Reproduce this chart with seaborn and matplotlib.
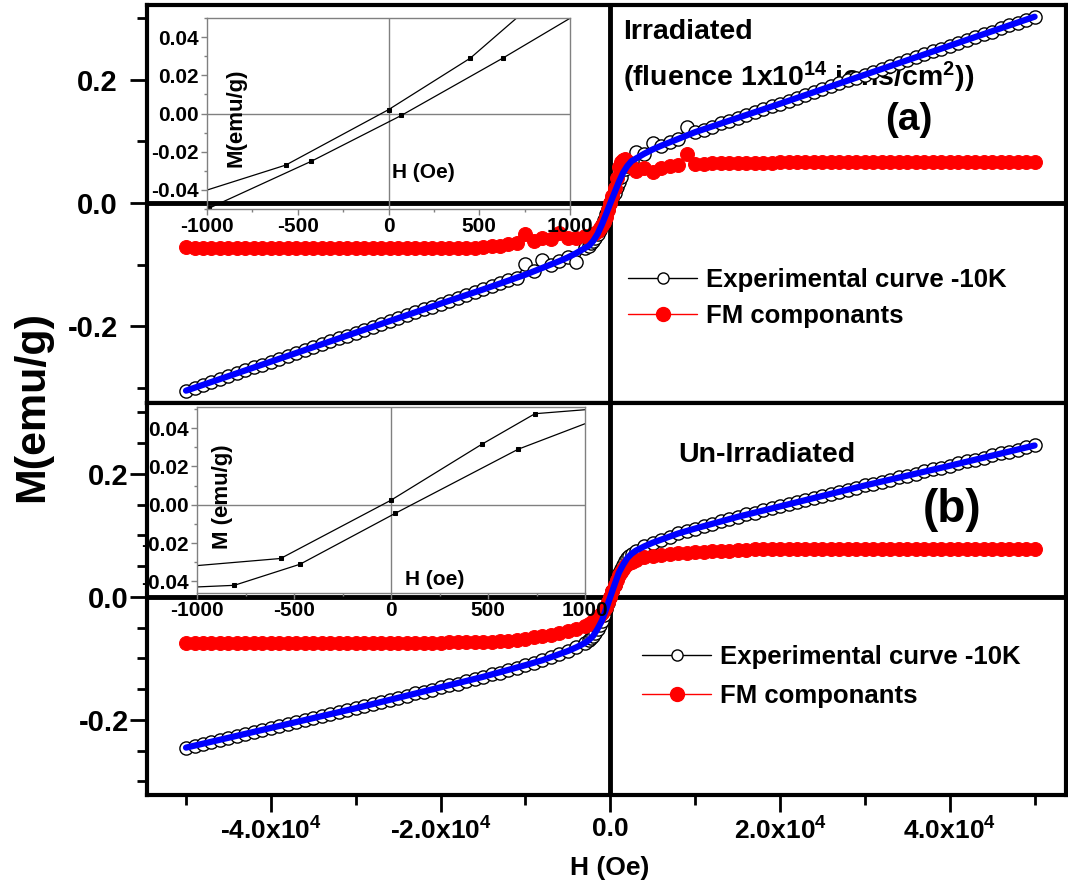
import seaborn as sns
import pandas as pd
import matplotlib
matplotlib.use('Agg')
import matplotlib.pyplot as plt
from matplotlib.lines import Line2D
from matplotlib.ticker import FixedLocator, FixedFormatter, MultipleLocator

# ---------------- data ----------------
H_FIELD = [
    -50000, -49000, -48000, -47000, -46000, -45000, -44000, -43000, -42000, -41000,
    -40000, -39000, -38000, -37000, -36000, -35000, -34000, -33000, -32000, -31000,
    -30000, -29000, -28000, -27000, -26000, -25000, -24000, -23000, -22000, -21000,
    -20000, -19000, -18000, -17000, -16000, -15000, -14000, -13000, -12000, -11000,
    -10000, -9000, -8000, -7000, -6000, -5000, -4000, -3000,
    -2500, -2250, -2000, -1750, -1500, -1250, -1000, -750, -500, -250, 0,
    250, 500, 750, 1000, 1250, 1500, 1750, 2000, 2250, 2500,
    3000, 4000, 5000, 6000, 7000, 8000, 9000, 10000,
    11000, 12000, 13000, 14000, 15000, 16000, 17000, 18000, 19000, 20000,
    21000, 22000, 23000, 24000, 25000, 26000, 27000, 28000, 29000, 30000,
    31000, 32000, 33000, 34000, 35000, 36000, 37000, 38000, 39000, 40000,
    41000, 42000, 43000, 44000, 45000, 46000, 47000, 48000, 49000, 50000,
]

# (a) irradiated
M_EXP_IRR = [
    -0.304, -0.299, -0.295, -0.290, -0.285, -0.281, -0.276, -0.271, -0.266, -0.262,
    -0.257, -0.252, -0.248, -0.243, -0.238, -0.234, -0.229, -0.224, -0.219, -0.215,
    -0.210, -0.205, -0.201, -0.196, -0.191, -0.187, -0.182, -0.177, -0.172, -0.168,
    -0.163, -0.158, -0.154, -0.149, -0.144, -0.140, -0.135, -0.130, -0.125, -0.121,
    -0.099, -0.110, -0.093, -0.100, -0.094, -0.088, -0.095, -0.073,
    -0.069, -0.065, -0.061, -0.056, -0.050, -0.043, -0.035, -0.027, -0.018, -0.009, 0.000,
    0.008, 0.017, 0.026, 0.034, 0.042, 0.062, 0.055, 0.060, 0.064, 0.068,
    0.082, 0.080, 0.097, 0.093, 0.099, 0.104, 0.124, 0.115,
    0.119, 0.124, 0.129, 0.133, 0.138, 0.143, 0.147, 0.152, 0.157, 0.161,
    0.166, 0.171, 0.175, 0.180, 0.185, 0.189, 0.194, 0.199, 0.203, 0.208,
    0.213, 0.217, 0.222, 0.227, 0.232, 0.236, 0.241, 0.246, 0.250, 0.255,
    0.260, 0.264, 0.269, 0.274, 0.278, 0.283, 0.288, 0.292, 0.297, 0.302,
]
M_FM_IRR = [
    -0.071, -0.072, -0.072, -0.072, -0.072, -0.072, -0.072, -0.072, -0.072, -0.072,
    -0.072, -0.072, -0.072, -0.072, -0.072, -0.072, -0.072, -0.072, -0.072, -0.072,
    -0.072, -0.072, -0.072, -0.072, -0.072, -0.072, -0.072, -0.072, -0.072, -0.072,
    -0.072, -0.072, -0.072, -0.072, -0.072, -0.071, -0.070, -0.069, -0.067, -0.065,
    -0.050, -0.062, -0.056, -0.058, -0.049, -0.056, -0.057, -0.054,
    -0.055, -0.052, -0.050, -0.048, -0.045, -0.041, -0.036, -0.030, -0.023, -0.012, 0.000,
    0.012, 0.025, 0.040, 0.058, 0.066, 0.070, 0.072, 0.068, 0.062, 0.058,
    0.052, 0.057, 0.050, 0.057, 0.060, 0.062, 0.080, 0.063,
    0.064, 0.065, 0.065, 0.065, 0.065, 0.065, 0.065, 0.065, 0.065, 0.066,
    0.066, 0.066, 0.066, 0.066, 0.066, 0.066, 0.066, 0.066, 0.066, 0.066,
    0.066, 0.066, 0.066, 0.066, 0.066, 0.066, 0.066, 0.066, 0.066, 0.066,
    0.066, 0.066, 0.066, 0.066, 0.066, 0.066, 0.066, 0.066, 0.066, 0.066,
]

# (b) un-irradiated
M_EXP_UNIRR = [
    -0.245, -0.243, -0.239, -0.236, -0.233, -0.230, -0.226, -0.223, -0.220, -0.217,
    -0.213, -0.210, -0.207, -0.204, -0.200, -0.197, -0.194, -0.190, -0.187, -0.184,
    -0.181, -0.177, -0.174, -0.171, -0.167, -0.164, -0.161, -0.157, -0.154, -0.151,
    -0.147, -0.144, -0.141, -0.137, -0.134, -0.130, -0.126, -0.123, -0.119, -0.115,
    -0.111, -0.107, -0.103, -0.098, -0.093, -0.088, -0.082, -0.075,
    -0.070, -0.067, -0.063, -0.058, -0.052, -0.046, -0.039, -0.030, -0.020, -0.010, 0.000,
    0.010, 0.020, 0.030, 0.039, 0.046, 0.052, 0.058, 0.063, 0.067, 0.070,
    0.075, 0.082, 0.088, 0.093, 0.098, 0.103, 0.107, 0.111,
    0.115, 0.119, 0.123, 0.126, 0.130, 0.134, 0.137, 0.141, 0.144, 0.147,
    0.151, 0.154, 0.157, 0.161, 0.164, 0.167, 0.171, 0.174, 0.177, 0.181,
    0.184, 0.187, 0.190, 0.194, 0.197, 0.200, 0.204, 0.207, 0.210, 0.213,
    0.217, 0.220, 0.223, 0.226, 0.230, 0.233, 0.236, 0.239, 0.243, 0.246,
]
M_FM_UNIRR = [
    -0.075, -0.075, -0.075, -0.075, -0.075, -0.075, -0.075, -0.075, -0.075, -0.075,
    -0.075, -0.075, -0.075, -0.075, -0.075, -0.075, -0.075, -0.075, -0.075, -0.075,
    -0.075, -0.075, -0.075, -0.075, -0.075, -0.075, -0.075, -0.075, -0.075, -0.075,
    -0.075, -0.074, -0.074, -0.074, -0.074, -0.074, -0.073, -0.072, -0.071, -0.070,
    -0.068, -0.066, -0.064, -0.062, -0.059, -0.056, -0.052, -0.047,
    -0.044, -0.042, -0.040, -0.037, -0.034, -0.030, -0.027, -0.022, -0.016, -0.008, 0.000,
    0.010, 0.020, 0.028, 0.035, 0.041, 0.046, 0.050, 0.053, 0.055, 0.057,
    0.060, 0.064, 0.066, 0.068, 0.070, 0.071, 0.072, 0.073,
    0.073, 0.074, 0.075, 0.075, 0.076, 0.076, 0.077, 0.077, 0.077, 0.078,
    0.078, 0.078, 0.078, 0.078, 0.078, 0.078, 0.078, 0.078, 0.078, 0.078,
    0.078, 0.078, 0.078, 0.078, 0.078, 0.078, 0.078, 0.078, 0.078, 0.078,
    0.077, 0.077, 0.077, 0.077, 0.077, 0.077, 0.077, 0.077, 0.077, 0.077,
]

# blue fitted curves
H_FIT = [-50000, -40000, -30000, -20000, -15000, -10000, -8000, -6000, -5000, -4000,
         -3000, -2500, -2000, -1500, -1000, -500, 0, 500, 1000, 1500, 2000, 2500,
         3000, 4000, 5000, 6000, 8000, 10000, 15000, 20000, 30000, 40000, 50000]
M_FIT_IRR = [-0.304, -0.257, -0.210, -0.163, -0.140, -0.116, -0.105, -0.094, -0.088, -0.081,
             -0.073, -0.069, -0.061, -0.050, -0.035, -0.018, 0.000, 0.017, 0.034, 0.049, 0.060, 0.068,
             0.072, 0.080, 0.087, 0.093, 0.104, 0.115, 0.138, 0.161, 0.208, 0.255, 0.302]
M_FIT_UNIRR = [-0.245, -0.213, -0.181, -0.147, -0.130, -0.111, -0.103, -0.093, -0.088, -0.082,
               -0.075, -0.070, -0.063, -0.052, -0.039, -0.020, 0.000, 0.020, 0.039, 0.052, 0.063, 0.070,
               0.075, 0.082, 0.088, 0.093, 0.103, 0.111, 0.130, 0.147, 0.181, 0.213, 0.246]

# insets (low-field loops)
INSET_A_H_UP = [-1130, -566, 0, 451, 1010]
INSET_A_M_UP = [-0.044, -0.027, 0.002, 0.029, 0.075]
INSET_A_H_DN = [-987, -425, 71, 630, 1180]
INSET_A_M_DN = [-0.0495, -0.025, -0.001, 0.029, 0.060]
INSET_B_H_UP = [-1150, -569, 0, 467, 742, 1300]
INSET_B_M_UP = [-0.033, -0.028, 0.0024, 0.0315, 0.0475, 0.052]
INSET_B_H_DN = [-1150, -808, -469, 21, 656, 1200]
INSET_B_M_DN = [-0.0435, -0.042, -0.031, -0.0045, 0.029, 0.050]

XTICKS = [-40000, -20000, 0, 20000, 40000]
XTICK_LABELS = ['-4.0x10$^{4}$', '-2.0x10$^{4}$', '0.0', '2.0x10$^{4}$', '4.0x10$^{4}$']
YTICKS = [-0.2, 0.0, 0.2]
YTICK_LABELS = ['-0.2', '0.0', '0.2']
INSET_XTICKS = [-1000, -500, 0, 500, 1000]
INSET_XTICK_LABELS = ['-1000', '-500', '0', '500', '1000']
INSET_YTICKS = [-0.04, -0.02, 0.0, 0.02, 0.04]
INSET_YTICK_LABELS = ['-0.04', '-0.02', '0.00', '0.02', '0.04']
LEGEND_LABELS = ['Experimental curve -10K', 'FM componants']

# ---------------- style ----------------
sns.set_theme(style='ticks')
plt.rcParams['font.family'] = ['Liberation Sans', 'DejaVu Sans']
plt.rcParams['font.weight'] = 'bold'
plt.rcParams['text.color'] = 'black'
plt.rcParams['axes.labelcolor'] = 'black'
plt.rcParams['xtick.color'] = 'black'
plt.rcParams['ytick.color'] = 'black'
plt.rcParams['mathtext.fontset'] = 'custom'
plt.rcParams['mathtext.rm'] = 'Liberation Sans:bold'
plt.rcParams['mathtext.bf'] = 'Liberation Sans:bold'
plt.rcParams['mathtext.default'] = 'bf'

W, H = 1068, 892


def fx(px):
    return px / W


def fy(py):
    return 1 - py / H


fig = plt.figure(figsize=(W / 100, H / 100), dpi=100)
ax_a = fig.add_axes([fx(147), fy(403), fx(1066) - fx(147), fy(5) - fy(403)])
ax_b = fig.add_axes([fx(147), fy(795), fx(1066) - fx(147), fy(403) - fy(795)])


def draw_panel(ax, m_exp, m_fm, m_fit, ylim, minor_step, label_pad):
    df = pd.DataFrame({'H': H_FIELD, 'exp': m_exp, 'fm': m_fm})
    fit = pd.DataFrame({'H': H_FIT, 'fit': m_fit})
    ax.axhline(0, color='black', lw=3.5, zorder=1)
    ax.axvline(0, color='black', lw=3.5, zorder=1)
    sns.lineplot(data=df, x='H', y='exp', ax=ax, color='black', lw=1, marker='o',
                 markersize=9.5, markerfacecolor='white', markeredgecolor='black',
                 markeredgewidth=1, sort=False, estimator=None, zorder=2)
    sns.lineplot(data=df, x='H', y='fm', ax=ax, color='red', lw=1, marker='o',
                 markersize=10, markerfacecolor='red', markeredgecolor='red',
                 sort=False, estimator=None, zorder=3)
    sns.lineplot(data=fit, x='H', y='fit', ax=ax, color='blue', lw=4.5,
                 sort=False, estimator=None, zorder=4)
    ax.set_xlim(-54600, 53700)
    ax.set_ylim(*ylim)
    ax.set_xlabel('')
    ax.set_ylabel('')
    for s in ax.spines.values():
        s.set_linewidth(3)
        s.set_color('black')
        s.set_visible(True)
    ax.yaxis.set_major_locator(FixedLocator(YTICKS))
    ax.yaxis.set_major_formatter(FixedFormatter(YTICK_LABELS))
    ax.yaxis.set_minor_locator(MultipleLocator(minor_step))
    ax.tick_params(axis='y', which='major', direction='out', length=12, width=2,
                   labelsize=21, pad=label_pad, color='black', labelcolor='black')
    ax.tick_params(axis='y', which='minor', direction='out', length=7, width=2,
                   left=True, color='black')


draw_panel(ax_a, M_EXP_IRR, M_FM_IRR, M_FIT_IRR, (-0.324, 0.321), 0.1, 9)
draw_panel(ax_b, M_EXP_UNIRR, M_FM_UNIRR, M_FIT_UNIRR, (-0.322, 0.315), 0.05, 1)

ax_a.tick_params(axis='x', which='both', bottom=False, labelbottom=False)
ax_b.xaxis.set_major_locator(FixedLocator(XTICKS))
ax_b.xaxis.set_major_formatter(FixedFormatter(XTICK_LABELS))
ax_b.xaxis.set_minor_locator(MultipleLocator(10000))
ax_b.tick_params(axis='x', which='major', direction='out', length=12, width=2,
                 labelsize=19, pad=4, color='black', labelcolor='black')
ax_b.tick_params(axis='x', which='minor', direction='out', length=7, width=2,
                 bottom=True, color='black')

# annotations
ax_a.text(fx(623), fy(32), 'Irradiated', transform=fig.transFigure, fontsize=20.5,
          ha='left', va='center', zorder=1, color='black')
ax_a.text(fx(623), fy(77), '(fluence 1x10$^{14}$ ions/cm$^{2}$))', transform=fig.transFigure,
          fontsize=20.5, ha='left', va='center', zorder=1, color='black')
ax_a.text(fx(909), fy(120), '(a)', transform=fig.transFigure, fontsize=28,
          ha='center', va='center', zorder=1, color='black')
ax_b.text(fx(678), fy(455), 'Un-Irradiated', transform=fig.transFigure, fontsize=20.5,
          ha='left', va='center', zorder=1, color='black')
ax_b.text(fx(952), fy(510), '(b)', transform=fig.transFigure, fontsize=33,
          ha='center', va='center', zorder=1, color='black')

fig.text(fx(32), fy(406), 'M(emu/g)', rotation=90, fontsize=31, ha='center', va='center',
         color='black')
fig.text(fx(610), fy(868), 'H (Oe)', fontsize=19, ha='center', va='center', color='black')

# legends
handles = [
    Line2D([], [], color='black', lw=1, marker='o', markersize=8,
           markerfacecolor='white', markeredgecolor='black'),
    Line2D([], [], color='red', lw=1, marker='o', markersize=10,
           markerfacecolor='red', markeredgecolor='red'),
]
leg_a = ax_a.legend(handles, LEGEND_LABELS, loc='upper left', bbox_to_anchor=(fx(628), fy(268)),
                    bbox_transform=fig.transFigure, frameon=False, fontsize=18.5,
                    handlelength=2.7, handletextpad=0.35, labelspacing=0.45,
                    borderpad=0, borderaxespad=0)
leg_b = ax_b.legend(handles, LEGEND_LABELS, loc='upper left', bbox_to_anchor=(fx(642), fy(645)),
                    bbox_transform=fig.transFigure, frameon=False, fontsize=18.5,
                    handlelength=2.7, handletextpad=0.35, labelspacing=0.6,
                    borderpad=0, borderaxespad=0)
for leg in (leg_a, leg_b):
    for t in leg.get_texts():
        t.set_color('black')


def draw_inset(rect, branches, ylim, ylabel, ylabel_xy, xlabel, xlabel_xy):
    ins = fig.add_axes(rect, facecolor='none')
    ins.axhline(0, color='gray', lw=1)
    ins.axvline(0, color='gray', lw=1)
    for h, m in branches:
        sns.lineplot(x=h, y=m, ax=ins, color='black', lw=0.9, marker='s', markersize=3.5,
                     markeredgecolor='black', markerfacecolor='black',
                     sort=False, estimator=None)
    ins.set_xlim(-1000, 1000)
    ins.set_ylim(*ylim)
    ins.set_xlabel('')
    ins.set_ylabel('')
    for s in ins.spines.values():
        s.set_linewidth(1)
        s.set_color('gray')
        s.set_visible(True)
    ins.xaxis.set_major_locator(FixedLocator(INSET_XTICKS))
    ins.xaxis.set_major_formatter(FixedFormatter(INSET_XTICK_LABELS))
    ins.xaxis.set_minor_locator(MultipleLocator(250))
    ins.yaxis.set_major_locator(FixedLocator(INSET_YTICKS))
    ins.yaxis.set_major_formatter(FixedFormatter(INSET_YTICK_LABELS))
    ins.yaxis.set_minor_locator(MultipleLocator(0.01))
    ins.tick_params(which='major', direction='out', length=4, width=1, color='gray',
                    labelsize=15, pad=2, labelcolor='black')
    ins.tick_params(which='minor', direction='out', length=2.5, width=1, color='gray',
                    bottom=True, left=True)
    ins.text(*ylabel_xy, ylabel, rotation=90, fontsize=16, ha='center', va='center',
             color='black')
    ins.text(*xlabel_xy, xlabel, fontsize=15, ha='center', va='center', color='black')
    return ins


draw_inset([fx(207), fy(209), fx(570) - fx(207), fy(18) - fy(209)],
           [(INSET_A_H_UP, INSET_A_M_UP), (INSET_A_H_DN, INSET_A_M_DN)],
           (-0.05, 0.05), 'M(emu/g)', (-840, -0.002), 'H (Oe)', (190, -0.031))
draw_inset([fx(197), fy(593), fx(585) - fx(197), fy(407) - fy(593)],
           [(INSET_B_H_UP, INSET_B_M_UP), (INSET_B_H_DN, INSET_B_M_DN)],
           (-0.046, 0.051), 'M (emu/g)', (-871, 0.004), 'H (oe)', (227, -0.039))

fig.savefig('out.png', dpi=100)
